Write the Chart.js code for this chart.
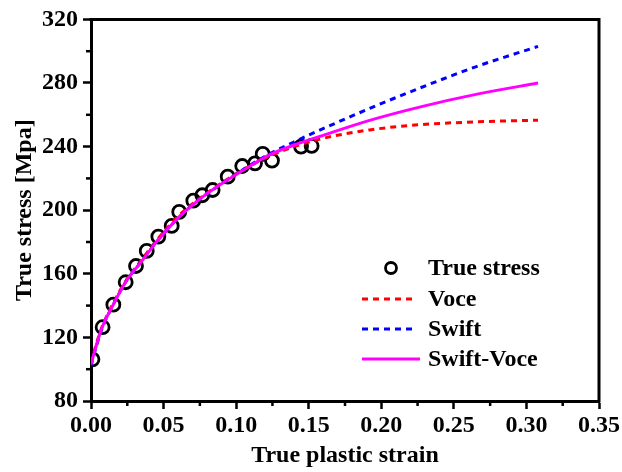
<!DOCTYPE html>
<html>
<head>
<meta charset="utf-8">
<script src="https://cdn.jsdelivr.net/npm/chart.js@4.4.1/dist/chart.umd.min.js"></script>
<style>
  body { margin: 0; background: #fff; }
  #wrap { width: 622px; height: 472px; }
</style>
</head>
<body>
<div id="wrap"><canvas id="stressChart" width="622" height="472"></canvas></div>
<script>
// measured points (true plastic strain, true stress)
const strainPts = [0.001, 0.008, 0.0154, 0.0239, 0.031, 0.0384, 0.0464, 0.0556, 0.0608, 0.0705,
  0.0767, 0.0838, 0.0942, 0.1042, 0.113, 0.1183, 0.1247, 0.1447, 0.152];
const stressPts = [106.2, 126.4, 140.6, 154.7, 164.9, 174.4, 183.4, 190.1, 198.9, 206,
  209.4, 212.7, 221.1, 227.8, 229.5, 235.4, 231.2, 240, 240.4];

// fitted curves
const curveStrain = [0, 0.004, 0.008, 0.015, 0.024, 0.035, 0.046, 0.061, 0.075, 0.094,
  0.11, 0.123, 0.14, 0.158, 0.192, 0.227, 0.266, 0.308];
const voce = [104, 117, 127.5, 141, 155.5, 169, 182, 197, 207.5, 219.5,
  228, 234, 240, 244.8, 250.5, 253.8, 255.6, 256.6];
const swift = [102, 115.5, 126.5, 140, 155, 168, 181, 196, 207, 219,
  228.5, 235.4, 243, 250.5, 264, 277, 290.5, 303];
const swiftVoce = [103, 116, 127, 140, 155, 168, 181, 196, 207, 219,
  228, 234.8, 241, 246.5, 256.5, 265, 273, 280];

const seriesNames = ["True stress", "Voce", "Swift", "Swift-Voce"];
const xTicks = [0, 0.05, 0.1, 0.15, 0.2, 0.25, 0.3, 0.35];
const yTicks = [80, 120, 160, 200, 240, 280, 320];

const FONT = '"Liberation Serif", "Times New Roman", serif';

function pairs(xs, ys) {
  return xs.map((x, i) => ({ x: x, y: ys[i] }));
}

// frame, minor ticks and legend
const extras = {
  id: "extras",
  afterDraw(chart) {
    const ctx = chart.ctx;
    const a = chart.chartArea;
    const xs = chart.scales.x, ys = chart.scales.y;
    ctx.save();
    ctx.strokeStyle = "#000";
    ctx.lineWidth = 3;
    ctx.beginPath();
    ctx.moveTo(a.left - 1.5, a.top);
    ctx.lineTo(a.right, a.top);
    ctx.lineTo(a.right, a.bottom + 1.5);
    ctx.stroke();

    // minor ticks
    ctx.lineWidth = 2.5;
    for (let i = 0; i < xTicks.length - 1; i++) {
      const px = xs.getPixelForValue((xTicks[i] + xTicks[i + 1]) / 2);
      ctx.beginPath();
      ctx.moveTo(px, a.bottom);
      ctx.lineTo(px, a.bottom + 5);
      ctx.stroke();
    }
    for (let i = 0; i < yTicks.length - 1; i++) {
      const py = ys.getPixelForValue((yTicks[i] + yTicks[i + 1]) / 2);
      ctx.beginPath();
      ctx.moveTo(a.left, py);
      ctx.lineTo(a.left - 5, py);
      ctx.stroke();
    }

    // legend
    const rows = [268, 299, 329, 359];
    const ds = chart.data.datasets;
    ctx.font = "bold 24px " + FONT;
    ctx.textBaseline = "middle";
    ctx.fillStyle = "#000";
    rows.forEach((y, i) => {
      const d = ds[i];
      if (i === 0) {
        ctx.setLineDash([]);
        ctx.lineWidth = d.borderWidth;
        ctx.strokeStyle = d.borderColor;
        ctx.beginPath();
        ctx.arc(391, y, 5.5, 0, Math.PI * 2);
        ctx.stroke();
      } else {
        ctx.setLineDash(d.borderDash || []);
        ctx.lineWidth = d.borderWidth;
        ctx.strokeStyle = d.borderColor;
        ctx.beginPath();
        ctx.moveTo(362, y);
        ctx.lineTo(i === 3 ? 420 : 416, y);
        ctx.stroke();
      }
      ctx.setLineDash([]);
      ctx.fillText(d.label, 428, y + 1);
    });
    ctx.restore();
  }
};

new Chart(document.getElementById("stressChart"), {
  type: "scatter",
  data: {
    datasets: [
      {
        label: seriesNames[0],
        data: pairs(strainPts, stressPts),
        pointStyle: "circle",
        pointRadius: 6.5,
        pointHoverRadius: 6.5,
        borderWidth: 2.8,
        borderColor: "#000",
        backgroundColor: "rgba(0,0,0,0)",
        order: 4
      },
      {
        label: seriesNames[1],
        data: pairs(curveStrain, voce),
        showLine: true,
        pointRadius: 0,
        borderColor: "#ff0000",
        borderWidth: 3,
        borderDash: [6, 5],
        cubicInterpolationMode: "monotone",
        order: 3
      },
      {
        label: seriesNames[2],
        data: pairs(curveStrain, swift),
        showLine: true,
        pointRadius: 0,
        borderColor: "#0000ff",
        borderWidth: 3,
        borderDash: [6, 5],
        cubicInterpolationMode: "monotone",
        order: 2
      },
      {
        label: seriesNames[3],
        data: pairs(curveStrain, swiftVoce),
        showLine: true,
        pointRadius: 0,
        borderColor: "#ff00ff",
        borderWidth: 3,
        cubicInterpolationMode: "monotone",
        order: 1
      }
    ]
  },
  options: {
    responsive: false,
    animation: false,
    layout: { padding: { top: 19, right: 23, left: 0, bottom: 0 } },
    plugins: { legend: { display: false }, tooltip: { enabled: false } },
    scales: {
      x: {
        type: "linear",
        min: 0,
        max: 0.35,
        afterBuildTicks: s => { s.ticks = xTicks.map(v => ({ value: v })); },
        afterFit: s => { s.height = 71; },
        border: { display: true, color: "#000", width: 3 },
        grid: { drawOnChartArea: false, drawTicks: true, tickLength: 8, tickColor: "#000", tickWidth: 2.5 },
        ticks: {
          color: "#000",
          padding: 2,
          maxRotation: 0,
          font: { family: FONT, size: 24, weight: "bold" },
          callback: v => v.toFixed(2)
        },
        title: {
          display: true,
          text: "True plastic strain",
          color: "#000",
          font: { family: FONT, size: 24, weight: "bold" },
          padding: { top: 0, bottom: 2 }
        }
      },
      y: {
        min: 80,
        max: 320,
        afterBuildTicks: s => { s.ticks = yTicks.map(v => ({ value: v })); },
        afterFit: s => { s.width = 91; },
        border: { display: true, color: "#000", width: 3 },
        grid: { drawOnChartArea: false, drawTicks: true, tickLength: 8, tickColor: "#000", tickWidth: 2.5 },
        ticks: {
          color: "#000",
          padding: 5,
          font: { family: FONT, size: 24, weight: "bold" }
        },
        title: {
          display: true,
          text: "True stress [Mpa]",
          color: "#000",
          font: { family: FONT, size: 24, weight: "bold" },
          padding: { top: 10, bottom: 0 }
        }
      }
    }
  },
  plugins: [extras]
});
</script>
</body>
</html>
